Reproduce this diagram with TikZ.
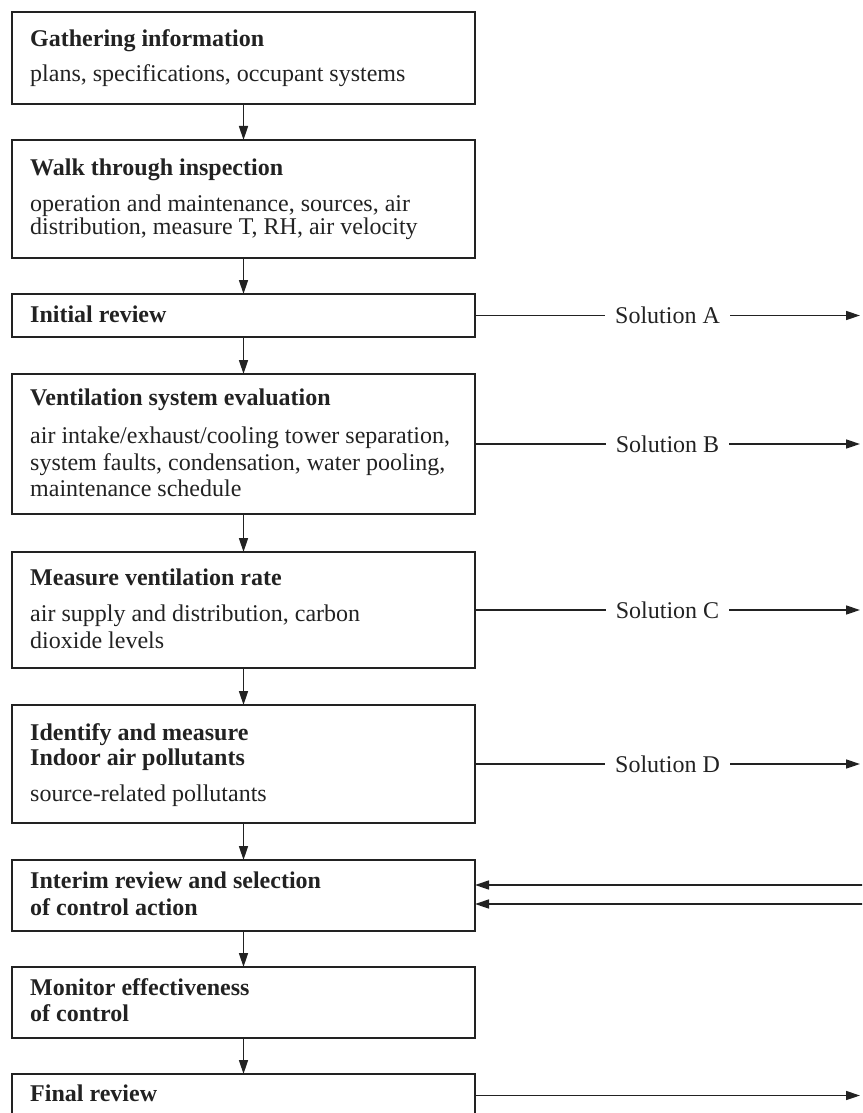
\documentclass[tikz,border=0pt]{standalone}
\usepackage{fontspec}
\setmainfont{Liberation Serif}
\usetikzlibrary{arrows.meta}
\definecolor{ink}{HTML}{222222}
\tikzset{
  box/.style={draw=ink, line width=1.5pt, rectangle, anchor=north west, minimum width=463pt, inner sep=0pt, outer sep=0pt},
  ttl/.style={anchor=base west, inner sep=0pt, text=ink, font=\fontsize{24}{26}\selectfont\bfseries},
  dsc/.style={anchor=base west, inner sep=0pt, text=ink, font=\fontsize{24}{26}\selectfont},
  arr/.style={draw=ink, line width=1.5pt, -{Triangle[length=14pt,width=9pt]}},
  sol/.style={fill=white, inner xsep=10pt, inner ysep=2pt, text=ink, font=\fontsize{24}{26}\selectfont}
}
\begin{document}
\begin{tikzpicture}[x=1pt,y=-1pt]
\useasboundingbox (0,0) rectangle (862,1113);
\clip (0,0) rectangle (862,1113);
% boxes
\node[box, minimum height=92pt]  (b1) at (12,12) {};
\node[box, minimum height=118pt] (b2) at (12,140) {};
\node[box, minimum height=43pt]  (b3) at (12,294) {};
\node[box, minimum height=140pt] (b4) at (12,374) {};
\node[box, minimum height=116pt] (b5) at (12,552) {};
\node[box, minimum height=118pt] (b6) at (12,705) {};
\node[box, minimum height=71pt]  (b7) at (12,860) {};
\node[box, minimum height=71pt]  (b8) at (12,967) {};
\node[box, minimum height=43pt]  (b9) at (12,1074) {};
% texts
\node[ttl] (t1) at (30,46.7) {Gathering information};
\node[dsc] (d1a) at (30,81.7) {plans, specifications, occupant systems};
\node[ttl] (t2) at (30,175) {Walk through inspection};
\node[dsc] (d2a) at (30,211) {operation and maintenance, sources, air};
\node[dsc] (d2b) at (30,234) {distribution, measure T, RH, air velocity};
\node[ttl] (t3) at (30,322.7) {Initial review};
\node[ttl] (t4) at (30,405) {Ventilation system evaluation};
\node[dsc] (d4a) at (30,443) {air intake/exhaust/cooling tower separation,};
\node[dsc] (d4b) at (30,470) {system faults, condensation, water pooling,};
\node[dsc] (d4c) at (30,496) {maintenance schedule};
\node[ttl] (t5) at (30,585) {Measure ventilation rate};
\node[dsc] (d5a) at (30,621.7) {air supply and distribution, carbon};
\node[dsc] (d5b) at (30,648) {dioxide levels};
\node[ttl] (t6a) at (30,740) {Identify and measure};
\node[ttl] (t6b) at (30,765) {Indoor air pollutants};
\node[dsc] (d6a) at (30,801.7) {source-related pollutants};
\node[ttl] (t7a) at (30,888) {Interim review and selection};
\node[ttl] (t7b) at (30,915) {of control action};
\node[ttl] (t8a) at (30,995) {Monitor effectiveness};
\node[ttl] (t8b) at (30,1021.7) {of control};
\node[ttl] (t9) at (30,1101.7) {Final review};
% vertical flow
\draw[arr] (b1.south) -- (b2.north);
\draw[arr] (b2.south) -- (b3.north);
\draw[arr] (b3.south) -- (b4.north);
\draw[arr] (b4.south) -- (b5.north);
\draw[arr] (b5.south) -- (b6.north);
\draw[arr] (b6.south) -- (b7.north);
\draw[arr] (b7.south) -- (b8.north);
\draw[arr] (b8.south) -- (b9.north);
% solutions
\coordinate (eA) at (860,0);
\draw[arr] (b3.east) -- (b3.east -| eA) node[sol, midway] (sA) {Solution A};
\draw[arr] (b4.east) -- (b4.east -| eA) node[sol, midway] (sB) {Solution B};
\draw[arr] (b5.east) -- (b5.east -| eA) node[sol, midway] (sC) {Solution C};
\draw[arr] (b6.east) -- (b6.east -| eA) node[sol, midway] (sD) {Solution D};
\draw[arr] (b9.east) -- (b9.east -| eA);
% feedback into interim review
\coordinate (i1) at (864,885);
\coordinate (i2) at (864,904);
\draw[arr] (i1) -- (i1 -| b7.east);
\draw[arr] (i2) -- (i2 -| b7.east);
\end{tikzpicture}
\end{document}
